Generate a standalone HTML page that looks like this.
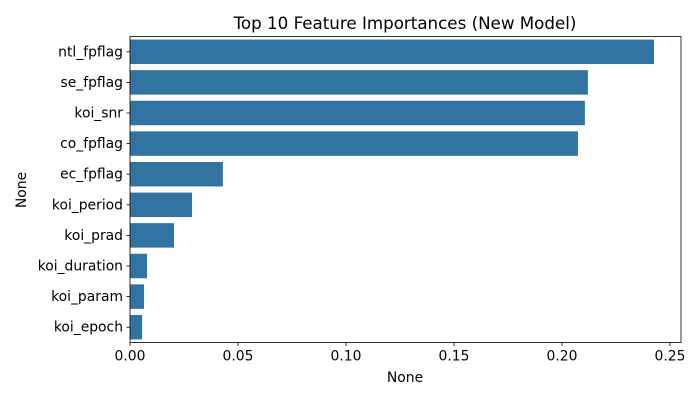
<!DOCTYPE html>
<html><head><meta charset="utf-8"><style>
html,body{margin:0;padding:0;background:#fff;}
svg{display:block;font-family:"DejaVu Sans","Liberation Sans",sans-serif;}
</style></head><body>
<svg id="chart" width="700" height="400" viewBox="0 0 700 400">
<text x="405" y="29" font-size="16.7" text-anchor="middle" fill="#000">Top 10 Feature Importances (New Model)</text>
<g id="bars"></g>
<g id="xticks"></g>
<g id="yticks"></g>
<rect x="130" y="36.5" width="551" height="306" fill="none" stroke="#000" stroke-width="0.8"/>
<text x="405" y="382" font-size="13.9" text-anchor="middle">None</text>
<text x="26" y="190" font-size="13.9" text-anchor="middle" transform="rotate(-90 26 190)">None</text>
</svg>
<script>
const categories = ["ntl_fpflag","se_fpflag","koi_snr","co_fpflag","ec_fpflag","koi_period","koi_prad","koi_duration","koi_param","koi_epoch"];
const importances = [0.2426,0.2120,0.2106,0.2074,0.0430,0.0287,0.0204,0.0079,0.0065,0.0056];
const xTickValues = [0,0.05,0.10,0.15,0.20,0.25];
const xTickLabels = ["0.00","0.05","0.10","0.15","0.20","0.25"];

const NS="http://www.w3.org/2000/svg";
const L=130,R=681,T=36.5,B=342.5;
const xMax=0.2551;
const x=v=>L+v/xMax*(R-L);
const band=(B-T)/categories.length;
const y=i=>T+band*i;
const bars=document.getElementById('bars');
categories.forEach((c,i)=>{
  const r=document.createElementNS(NS,'rect');
  r.setAttribute('x',x(0));r.setAttribute('y',y(i)+band*0.1);
  r.setAttribute('width',x(importances[i])-x(0));r.setAttribute('height',band*0.8);
  r.setAttribute('fill','#3274a1');
  
  
  bars.appendChild(r);
  const yt=document.getElementById('yticks');
  const tk=document.createElementNS(NS,'line');
  const cy=y(i)+band/2;
  tk.setAttribute('x1',L-3.5);tk.setAttribute('x2',L);tk.setAttribute('y1',cy);tk.setAttribute('y2',cy);
  tk.setAttribute('stroke','#000');tk.setAttribute('stroke-width','0.8');
  
  
  yt.appendChild(tk);
  const t=document.createElementNS(NS,'text');
  t.setAttribute('x',L-7);t.setAttribute('y',cy+4.5);t.setAttribute('text-anchor','end');t.setAttribute('font-size','13.9');
  t.textContent=c;
  
  
  yt.appendChild(t);
});
const xt=document.getElementById('xticks');
xTickValues.forEach((v,i)=>{
  const tk=document.createElementNS(NS,'line');
  tk.setAttribute('x1',x(v));tk.setAttribute('x2',x(v));tk.setAttribute('y1',B);tk.setAttribute('y2',B+3.5);
  tk.setAttribute('stroke','#000');tk.setAttribute('stroke-width','0.8');
  
  
  xt.appendChild(tk);
  const t=document.createElementNS(NS,'text');
  t.setAttribute('x',x(v));t.setAttribute('y',B+18);t.setAttribute('text-anchor','middle');t.setAttribute('font-size','13.9');
  t.textContent=xTickLabels[i];
  
  
  xt.appendChild(t);
});
</script>
</body></html>
